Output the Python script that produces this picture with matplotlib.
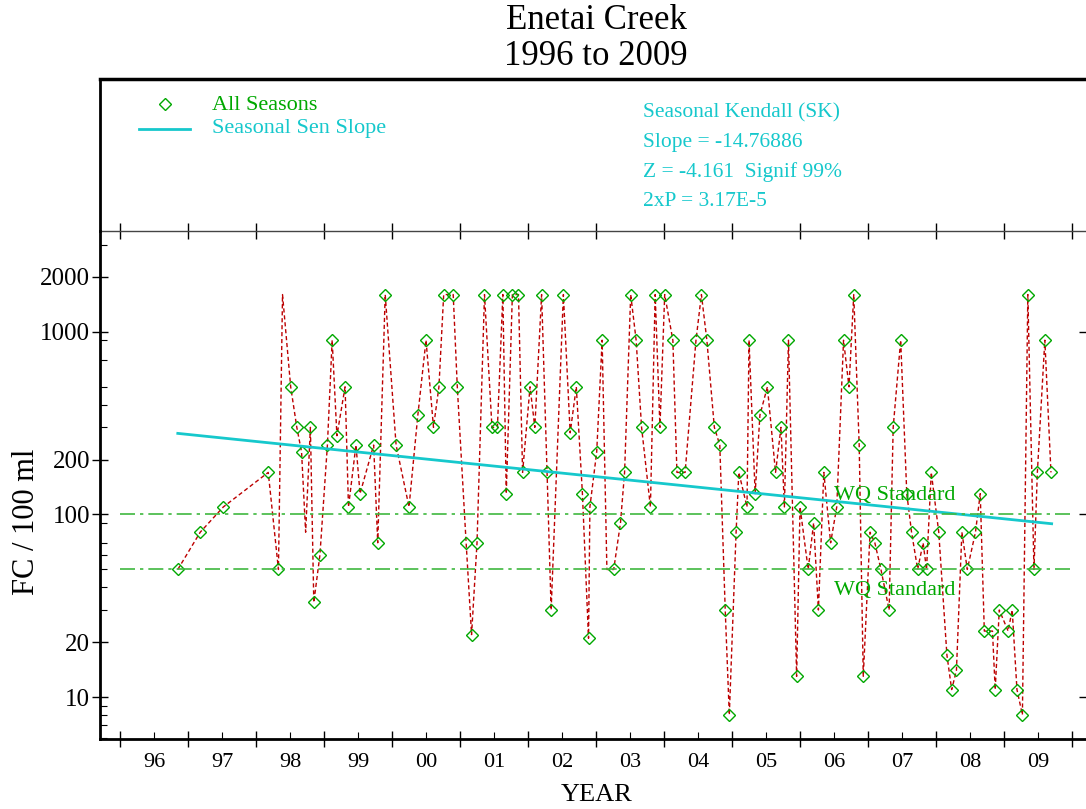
import matplotlib
matplotlib.use("Agg")
import matplotlib.pyplot as plt
import numpy as np

plt.rcParams['font.family'] = ['Liberation Serif', 'DejaVu Serif']

# sample dates (decimal years) and fecal coliform values
years = [1996.85, 1997.18, 1997.52, 1998.18, 1998.33, 1998.39, 1998.51, 1998.60, 1998.67, 1998.73,
         1998.80, 1998.85, 1998.94, 1999.05, 1999.12, 1999.19, 1999.31, 1999.36, 1999.47, 1999.53,
         1999.73, 1999.79, 1999.90, 2000.06, 2000.25, 2000.38, 2000.50, 2000.61, 2000.69, 2000.76,
         2000.90, 2000.96, 2001.09, 2001.17, 2001.25, 2001.36, 2001.47, 2001.55, 2001.63, 2001.68,
         2001.77, 2001.86, 2001.92, 2002.03, 2002.10, 2002.20, 2002.28, 2002.34, 2002.52, 2002.62,
         2002.71, 2002.80, 2002.89, 2002.91, 2003.01, 2003.09, 2003.16, 2003.26, 2003.36, 2003.42,
         2003.51, 2003.59, 2003.67, 2003.80, 2003.87, 2003.94, 2004.01, 2004.13, 2004.19, 2004.31,
         2004.47, 2004.55, 2004.63, 2004.74, 2004.82, 2004.90, 2004.96, 2005.06, 2005.10, 2005.22,
         2005.25, 2005.34, 2005.41, 2005.52, 2005.64, 2005.72, 2005.77, 2005.83, 2005.95, 2006.00,
         2006.12, 2006.20, 2006.27, 2006.35, 2006.45, 2006.54, 2006.64, 2006.72, 2006.79, 2006.87,
         2006.93, 2007.03, 2007.10, 2007.19, 2007.31, 2007.37, 2007.48, 2007.57, 2007.64, 2007.73,
         2007.81, 2007.86, 2007.93, 2008.04, 2008.16, 2008.23, 2008.30, 2008.38, 2008.46, 2008.58,
         2008.65, 2008.71, 2008.83, 2008.87, 2008.93, 2009.06, 2009.12, 2009.19, 2009.27, 2009.35,
         2009.44, 2009.49, 2009.60, 2009.69]
fc = [50, 80, 110, 170, 50, 1600, 500, 300, 220, 80,
      300, 33, 60, 240, 900, 270, 500, 110, 240, 130,
      240, 70, 1600, 240, 110, 350, 900, 300, 500, 1600,
      1600, 500, 70, 22, 70, 1600, 300, 300, 1600, 130,
      1600, 1600, 170, 500, 300, 1600, 170, 30, 1600, 280,
      500, 130, 21, 110, 220, 900, 50, 50, 90, 170,
      1600, 900, 300, 110, 1600, 300, 1600, 900, 170, 170,
      900, 1600, 900, 300, 240, 30, 8, 80, 170, 110,
      900, 130, 350, 500, 170, 300, 110, 900, 13, 110,
      50, 90, 30, 170, 70, 110, 900, 500, 1600, 240,
      13, 80, 70, 50, 30, 300, 900, 130, 80, 50,
      70, 50, 170, 80, 17, 11, 14, 80, 50, 80,
      130, 23, 23, 11, 30, 23, 30, 11, 8, 1600,
      50, 170, 900, 170]
# points drawn in the trace but without a marker
unmarked = [5, 9, 56]

sen_x = [1996.85, 2009.70]
sen_y = [278, 89]
wq_levels = [100, 50]
year_labels = ['96', '97', '98', '99', '00', '01', '02', '03', '04', '05', '06', '07', '08', '09']

green = '#00A800'
cyan = '#16C8CC'
red = '#BC0000'

W, H = 1086, 809
fig = plt.figure(figsize=(W / 100, H / 100), dpi=100)

# main plot, pixel box 100..1087 x 231..739
ax = fig.add_axes([100 / W, 1 - 739 / H, 987 / W, 508 / H])
ax.set_yscale('log')
ax.set_xlim(1995.706, 2010.22)
ax.set_ylim(5.9, 3565)

years = np.array(years)
fc = np.array(fc)
marked = np.ones(len(years), bool)
marked[unmarked] = False

ax.plot(years, fc, color=red, lw=1, ls=(0, (3, 2)))
ax.plot(years[marked], fc[marked], ls='none', marker='D', ms=6, mfc='none',
        mec=green, mew=1)
ax.plot(sen_x, sen_y, color=cyan, lw=2)
for lev in wq_levels:
    ax.plot([1996, 2010], [lev, lev], color='#40B840', lw=1.2, ls=(0, (9, 3, 2, 3)))
ax.text(2006.5, 127, 'WQ Standard', color=green, fontsize=16, ha='left', va='center')
ax.text(2006.5, 38.4, 'WQ Standard', color=green, fontsize=16, ha='left', va='center')

# x ticks: year boundaries, labels mid-year
ax.set_xticks(np.arange(1996, 2011))
ax.set_xticklabels([])
ax.set_xticks(np.arange(1996.5, 2010), minor=True)
ax.set_xticklabels(year_labels, minor=True, fontsize=16)
ax.tick_params(axis='x', which='major', direction='inout', length=11, width=1,
               top=True, bottom=True)
ax.tick_params(axis='x', which='minor', direction='in', length=5, width=0.8, pad=10)

ax.set_yticks([10, 20, 100, 200, 1000, 2000])
ax.set_yticklabels(['10', '20', '100', '200', '1000', '2000'], fontsize=18)
ax.set_yticks([6, 7, 8, 9, 30, 40, 50, 60, 70, 90, 300, 400, 500, 700, 900, 3000], minor=True)
ax.set_yticklabels([], minor=True)
ax.tick_params(axis='y', which='major', direction='inout', length=12, width=1, pad=1)
ax.tick_params(axis='y', which='minor', direction='in', length=5, width=0.8)

for s in ['left', 'bottom']:
    ax.spines[s].set_linewidth(2)
ax.spines['top'].set_linewidth(1)
ax.spines['top'].set_color('#444444')
ax.spines['right'].set_visible(False)

# short inward ticks on the right edge
ax2 = ax.twinx()
ax2.set_yscale('log')
ax2.set_ylim(ax.get_ylim())
ax2.set_yticks([10, 100, 1000])
ax2.set_yticklabels([])
ax2.set_yticks([], minor=True)
ax2.tick_params(axis='y', direction='in', length=6, width=1)
for s in ax2.spines.values():
    s.set_visible(False)

# legend / statistics panel, pixel coordinates
lg = fig.add_axes([100 / W, 1 - 231 / H, 987 / W, 152 / H])
lg.set_xlim(100, 1087)
lg.set_ylim(231, 79)
lg.set_xticks([])
lg.set_yticks([])
for s in ['bottom', 'right']:
    lg.spines[s].set_visible(False)
lg.spines['left'].set_linewidth(2)
lg.spines['top'].set_linewidth(2.5)
lg.patch.set_alpha(0)

lg.plot([165], [104], marker='D', ms=6, mfc='none', mec=green, mew=1)
lg.plot([139, 190], [129, 129], color=cyan, lw=2)
lg.text(212, 105, 'All Seasons', color=green, fontsize=16, va='center')
lg.text(212, 129, 'Seasonal Sen Slope', color=cyan, fontsize=16, va='center')
stats = ['Seasonal Kendall (SK)', 'Slope = -14.76886', 'Z = -4.161  Signif 99%', '2xP = 3.17E-5']
for i, line in enumerate(stats):
    lg.text(643, 113 + 29.5 * i, line, color=cyan, fontsize=15.5, va='center')

fig.text(0.549, 1 - 38.5 / H, 'Enetai Creek\n1996 to 2009', fontsize=25, ha='center',
         va='center', linespacing=1.1)
fig.text(27 / W, 1 - 522 / H, 'FC / 100 ml', fontsize=22, rotation=90, ha='center', va='center')
fig.text(0.549, 1 - 795 / H, 'YEAR', fontsize=19, ha='center', va='center')

fig.savefig('out.png', dpi=100)
